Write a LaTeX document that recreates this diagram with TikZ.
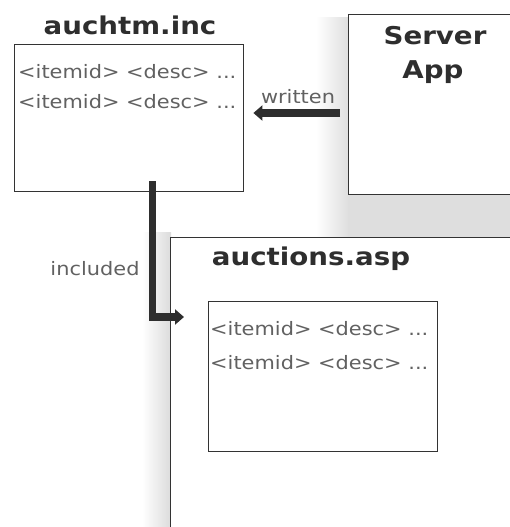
\documentclass[tikz,border=0pt]{standalone}
\usepackage{fontspec}
\setmainfont{DejaVu Sans}[FakeStretch=1.13]
\usetikzlibrary{arrows.meta}

\tikzset{
  filebox/.style={draw=black!80, line width=1.4pt, fill=white, inner sep=0pt, anchor=north west},
  title/.style={font=\bfseries\fontsize{24.5}{26}\selectfont, text=black!82, inner sep=0pt, anchor=base},
  entry/.style={font=\fontsize{18.5}{20}\selectfont, text=black!62, inner sep=0pt, anchor=base west},
  flowlabel/.style={font=\fontsize{18.5}{20}\selectfont, text=black!62, inner sep=0pt, anchor=base},
  flow/.style={line width=7.5pt, draw=black!82, miter limit=10,
    -{Triangle[length=9pt,width=15pt]}},
  haze/.style={draw=none}
}

\begin{document}
\begin{tikzpicture}[x=1pt,y=-1pt]
\useasboundingbox (0,0) rectangle (510,527);

% soft shadow behind the server and page boxes
\fill[haze, left color=white, right color=black!13] (316,18) rectangle (349,237);
\fill[haze, black!13] (348,193) rectangle (512,237);
\fill[haze, left color=white, right color=black!14] (142,232) rectangle (171,527);

% boxes
\node[filebox, minimum width=229pt, minimum height=147pt] (inc) at (14,44) {};
\node[filebox, minimum width=170pt, minimum height=180pt] (srv) at (348,14) {};
\node[filebox, minimum width=345pt, minimum height=295pt] (asp) at (170,237) {};
\node[filebox, minimum width=229pt, minimum height=150pt] (tbl) at (208,301) {};

% titles
\node[title] (inct) at (130,35) {auchtm.inc};
\node[title] (srv1) at (435,45) {Server};
\node[title] (srv2) at (433,78) {App};
\node[title] (aspt) at (311,265) {auctions.asp};

% rows of the include file
\node[entry] (r1) at (18,78) {<itemid> <desc> ...};
\node[entry] (r2) at (18,108) {<itemid> <desc> ...};
\node[entry] (r3) at (210,335) {<itemid> <desc> ...};
\node[entry] (r4) at (210,369) {<itemid> <desc> ...};

% written: server app -> include file
\coordinate (wfrom) at ([xshift=-8pt]srv.west |- 0,113);
\coordinate (wto) at ([xshift=9pt]inc.east |- 0,113);
\draw[flow] (wfrom) -- (wto);
\node[flowlabel] (wl) at (298,103) {written};

% included: include file -> page
\coordinate (ifrom) at ([yshift=11pt]inc.south -| 152.5,0);
\coordinate (icorner) at (152.5,317);
\coordinate (ito) at ([xshift=14pt]asp.west |- icorner);
\draw[flow] (ifrom) -- (icorner) -- (ito);
\node[flowlabel] (il) at (95,275) {included};
\end{tikzpicture}
\end{document}
